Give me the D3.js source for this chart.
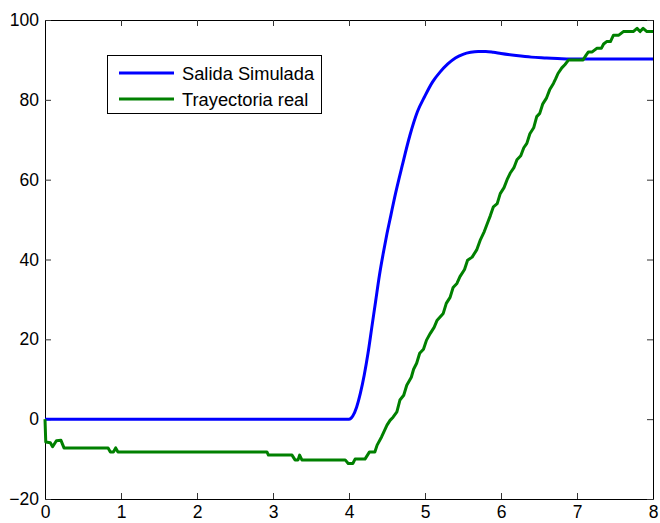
<!DOCTYPE html>
<html><head>
<meta charset="utf-8">
<script src="https://d3js.org/d3.v7.min.js"></script>
<style>
  body { margin: 0; background: #fff; }
  text { font-family: "Liberation Sans", Arial, Helvetica, sans-serif; }
  .axis .domain { stroke: #000; }
  .axis line { stroke: #333; }
</style>
</head>
<body>
<svg id="chart" width="660" height="523"></svg>
<script>
  // data: [time, value]
  const seriesNames = ["Salida Simulada", "Trayectoria real"];
  const seriesColors = ["#0000ff", "#008000"];

  const simulada = [
    [0,0],[4.0,0],[4.05,0.8],[4.1,3],[4.15,6.5],[4.2,11],[4.25,16.5],[4.3,23],[4.35,29.5],
    [4.4,36],[4.45,41.5],[4.5,46.5],[4.55,51],[4.6,55.5],[4.7,63.5],[4.8,71],[4.9,77],
    [5.0,81],[5.1,84.5],[5.2,87],[5.3,89],[5.4,90.5],[5.5,91.4],[5.6,91.9],[5.7,92.1],
    [5.8,92.1],[5.9,91.9],[6.0,91.6],[6.2,91.1],[6.4,90.7],[6.6,90.5],[6.8,90.3],[7.0,90.2],[8,90.2]
  ];

  const real = [
    [0,0],[0.01,-5.7],[0.07,-5.9],[0.1,-6.9],[0.15,-5.4],[0.21,-5.3],[0.25,-7.2],[0.83,-7.2],
    [0.86,-8.2],[0.9,-8.2],[0.93,-7.2],[0.96,-8.2],[2.92,-8.2],[2.94,-9.0],[3.25,-9.0],
    [3.29,-10.2],[3.33,-10.2],[3.35,-9.0],[3.38,-10.2],[3.95,-10.2],[3.99,-11.1],[4.05,-11.1],
    [4.08,-10.0],[4.21,-10.0],[4.27,-8.2],[4.34,-8.2],[4.37,-6.5],[4.43,-4.4],[4.50,-1.5],
    [4.54,-0.3],[4.58,0.5],[4.63,1.8],[4.67,4.8],[4.72,6],[4.76,8.5],[4.82,10.5],[4.85,12.5],
    [4.89,14],[4.93,16.5],[4.98,17.5],[5.02,19.8],[5.07,21.5],[5.12,23],[5.16,24.8],[5.24,26.5],
    [5.28,29],[5.33,30.5],[5.37,33],[5.42,34],[5.46,35.7],[5.52,37.5],[5.56,39.8],[5.62,40.6],
    [5.68,42.4],[5.73,45],[5.78,47],[5.83,49.5],[5.86,51],[5.90,53.2],[5.95,54],[5.99,56.5],
    [6.04,58],[6.08,60],[6.12,61.6],[6.17,63],[6.21,65],[6.26,66],[6.30,68],[6.34,69.1],
    [6.38,71.5],[6.43,73],[6.47,75.8],[6.51,76.6],[6.55,79],[6.60,80.5],[6.64,82.5],[6.69,84.1],
    [6.72,85.3],[6.75,86.6],[6.80,88],[6.84,88.8],[6.89,90],[7.08,90],[7.12,91.2],[7.15,92],
    [7.2,92],[7.26,92.9],[7.32,92.9],[7.35,94],[7.39,94.6],[7.44,94.6],[7.48,96.2],[7.55,96.2],
    [7.61,97.1],[7.74,97.1],[7.79,97.9],[7.83,97.1],[7.87,97.9],[7.92,97.1],[8,97.1]
  ];

  const xTicks = [0, 1, 2, 3, 4, 5, 6, 7, 8];
  const yTicks = [-20, 0, 20, 40, 60, 80, 100];

  const svg = d3.select("svg#chart");
  const margins = {"top": 20, "right": 7, "bottom": 24, "left": 45};
  const width = +svg.attr("width");
  const height = +svg.attr("height");
  const chartWidth = width - margins.left - margins.right;
  const chartHeight = height - margins.top - margins.bottom;

  const xScale = d3.scaleLinear().domain([0, 8]).range([margins.left, margins.left + chartWidth]);
  const yScale = d3.scaleLinear().domain([-20, 100]).range([margins.top + chartHeight, margins.top]);

  // axes, ticks pointing inward like matlab's box
  svg.append("g").attr("class", "axis")
     .attr("transform", "translate(0," + (margins.top + chartHeight) + ")")
     .call(d3.axisBottom(xScale).tickValues(xTicks).tickFormat(d3.format("d"))
           .tickSizeInner(-6).tickSizeOuter(0).tickPadding(7))
     .selectAll("text").attr("font-size", 17.5).attr("fill", "#000")
     .attr("font-family", "Liberation Sans, Arial, sans-serif");

  svg.append("g").attr("class", "axis")
     .attr("transform", "translate(0," + margins.top + ")")
     .call(d3.axisTop(xScale).tickValues(xTicks).tickFormat("").tickSizeInner(-6).tickSizeOuter(0));

  svg.append("g").attr("class", "axis")
     .attr("transform", "translate(" + margins.left + ",0)")
     .call(d3.axisLeft(yScale).tickValues(yTicks).tickFormat(d => d < 0 ? "\u2212" + (-d) : d)
           .tickSizeInner(-6).tickSizeOuter(0).tickPadding(6))
     .selectAll("text").attr("font-size", 17.5).attr("fill", "#000")
     .attr("font-family", "Liberation Sans, Arial, sans-serif");

  svg.append("g").attr("class", "axis")
     .attr("transform", "translate(" + (margins.left + chartWidth) + ",0)")
     .call(d3.axisRight(yScale).tickValues(yTicks).tickFormat("").tickSizeInner(-6).tickSizeOuter(0));

  // the lines: the simulated one is smooth, the measured one is jagged
  const smoothLine = d3.line().x(d => xScale(d[0])).y(d => yScale(d[1])).curve(d3.curveMonotoneX);
  const rawLine = d3.line().x(d => xScale(d[0])).y(d => yScale(d[1]));
  [[simulada, smoothLine], [real, rawLine]].forEach((s, i) => {
    svg.append("path")
       .datum(s[0])
       .attr("d", s[1])
       .attr("fill", "none")
       .attr("stroke", seriesColors[i])
       .attr("stroke-width", 3)
       .attr("stroke-linejoin", "round");
  });

  // legend
  const legend = svg.append("g").attr("transform", "translate(107,55)");
  legend.append("rect")
        .attr("x", 0.5).attr("y", 0.5).attr("width", 214).attr("height", 58)
        .attr("fill", "#fff").attr("stroke", "#000").attr("stroke-width", 1);
  seriesNames.forEach((name, i) => {
    const rowY = 18 + i * 26;
    legend.append("line")
          .attr("x1", 12).attr("x2", 67).attr("y1", rowY).attr("y2", rowY)
          .attr("stroke", seriesColors[i]).attr("stroke-width", 3);
    legend.append("text")
          .attr("x", 75).attr("y", rowY + 6.5)
          .attr("font-size", 18.3)
          .text(name);
  });
</script>
</body>
</html>
